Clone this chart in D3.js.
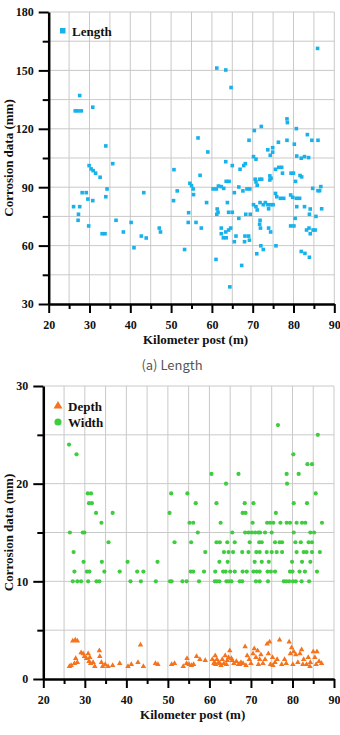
<!DOCTYPE html>
<html lang="en">
<head>
<meta charset="utf-8">
<script src="https://d3js.org/d3.v7.min.js"></script>
<style>
  body { margin: 0; background: #fff; }
  svg { display: block; }
  .tick text { font-family: "Liberation Serif", "Times New Roman", serif; font-weight: bold; font-size: 12px; fill: #111; }
  .title { font-family: "Liberation Serif", "Times New Roman", serif; font-weight: bold; font-size: 13px; fill: #111; }
  .grid line { stroke: #c9c9c9; stroke-width: 1; }
</style>
</head>
<body>
<svg width="340" height="735"></svg>
<script>
// x ticks (km posts) and y ticks for the two panels
var kmTicks = [20, 30, 40, 50, 60, 70, 80, 90];
var lenTicks = [30, 60, 90, 120, 150, 180];
var dwTicks = [0, 10, 20, 30];

// (a) length, [km, mm]
var lengthData = [
  [85.9,161.3],[61.2,151.2],[63.4,150.2],[64.7,141.2],[27.6,137.1],[26.5,129.2],[27.2,129.2],[28.0,129.2],[30.8,131.1],
  [78.4,125.1],[78.5,123.2],[70.4,119.1],[72.1,121.2],[80.7,120.1],[83.4,117.0],[56.6,115.3],[69.1,114.1],[78.4,114.1],
  [84.5,114.1],[86.0,114.1],[76.3,113.1],[80.2,112.1],[34.0,111.2],[59.0,108.1],[74.9,110.3],[73.7,109.2],[74.9,108.0],
  [70.2,105.7],[70.8,104.4],[74.3,106.4],[80.8,106.0],[81.9,104.9],[82.7,105.7],[83.7,105.2],[63.4,103.1],[65.0,101.1],
  [68.2,102.1],[67.8,101.1],[66.9,99.2],[35.7,102.1],[29.9,101.1],[30.4,99.4],[30.9,98.5],[31.5,97.2],[32.6,95.1],
  [50.7,99.0],[57.1,96.1],[75.6,99.2],[76.4,100.2],[77.1,100.2],[77.3,97.2],[79.4,97.2],[80.0,97.2],[81.6,96.0],[82.0,95.3],
  [74.2,95.8],[74.5,94.6],[70.6,94.1],[71.7,94.1],[72.2,94.1],[71.1,91.0],[70.8,92.7],[74.2,93.7],[80.5,93.0],[54.6,92.0],
  [55.0,90.8],[55.4,89.1],[63.5,93.0],[64.2,93.0],[61.6,90.6],[62.3,90.3],[62.9,89.4],[60.3,89.1],[61.1,89.1],[66.6,90.1],
  [65.5,87.2],[67.6,88.1],[68.6,89.1],[69.3,89.1],[34.3,89.1],[28.2,87.2],[29.2,87.2],[43.3,87.2],[51.5,88.1],[55.5,86.2],
  [86.7,90.3],[86.0,88.2],[86.4,88.2],[84.7,89.4],[75.6,86.8],[75.9,85.1],[76.8,84.3],[77.6,84.3],[79.3,86.0],[79.8,84.8],
  [80.7,84.3],[81.5,84.3],[34.0,85.1],[29.6,83.9],[30.8,83.1],[26.1,80.0],[27.6,80.0],[27.3,76.1],[27.2,73.0],[29.8,70.1],
  [33.1,66.1],[33.8,66.1],[36.5,73.0],[38.3,67.0],[40.2,71.9],[40.9,58.9],[42.7,64.9],[43.9,63.9],[47.1,69.0],[47.4,67.0],
  [50.6,83.1],[53.3,58.0],[54.3,76.9],[54.2,71.9],[56.1,71.9],[57.4,69.0],[58.7,82.1],[61.0,52.9],[61.3,78.8],[61.5,77.1],
  [61.2,76.1],[63.8,82.1],[64.1,77.1],[65.0,77.1],[66.6,74.0],[62.3,69.0],[62.3,66.1],[62.8,64.0],[63.5,64.0],[63.4,67.0],
  [64.1,68.0],[64.6,69.0],[65.5,62.0],[65.9,64.9],[68.1,64.9],[69.0,64.9],[68.0,62.0],[69.2,62.8],[67.3,49.8],[64.4,38.8],
  [68.3,76.1],[69.4,76.1],[70.2,81.0],[70.8,80.0],[71.1,78.3],[71.8,82.1],[72.6,81.0],[73.1,82.1],[73.7,81.0],[74.4,81.0],
  [75.0,81.0],[73.9,78.9],[71.8,73.0],[71.7,71.0],[71.9,69.0],[73.9,69.0],[74.4,67.0],[71.0,55.8],[72.0,59.9],[72.6,58.0],
  [75.7,59.9],[79.3,70.1],[80.1,70.1],[80.4,74.0],[80.8,80.0],[82.7,80.0],[84.1,78.8],[83.9,76.1],[85.5,75.0],[86.9,78.9],
  [83.2,68.0],[83.8,69.0],[84.1,66.1],[84.8,68.0],[85.3,68.0],[81.9,57.0],[82.8,56.0],[83.9,54.0]
];

// (b) width, [km, mm]
var widthData = [
  [76.5,26],[86.1,25],[26.2,24],[28.0,23],[80.2,23],[83.6,22],[84.7,22],
  [60.5,21],[67.0,21],[78.6,21],[81.5,21],[64.0,20],[78.7,20],
  [30.7,19],[31.5,19],[50.8,19],[54.7,19],[85.6,19],
  [31.0,18],[31.7,18],[56.7,18],[61.7,18],[68.5,18],[70.6,18],[80.3,18],[83.5,18],
  [32.7,17],[36.7,17],[50.4,17],[68.0,17],[68.7,17],[76.0,17],
  [34.0,16],[55.2,16],[56.1,16],[62.7,16],[70.4,16],[73.9,16],[74.6,16],[75.4,16],[77.1,16],[78.6,16],[79.4,16],
  [81.0,16],[82.3,16],[83.1,16],[87.1,16],
  [26.4,15],[29.5,15],[29.9,15],[57.2,15],[65.5,15],[68.6,15],[69.4,15],[70.2,15],[71.0,15],[71.8,15],[72.2,15],
  [73.4,15],[75.0,15],[80.3,15],[84.3,15],[85.2,15],
  [35.7,14],[51.6,14],[55.6,14],[61.7,14],[62.5,14],[64.3,14],[66.1,14],[69.7,14],[72.0,14],[72.6,14],[75.8,14],
  [76.9,14],[77.5,14],[80.7,14],[82.0,14],[83.9,14],[84.7,14],
  [27.3,13],[59.0,13],[63.5,13],[64.6,13],[65.7,13],[67.9,13],[69.4,13],[71.3,13],[72.1,13],[73.8,13],[75.0,13],
  [76.2,13],[77.5,13],[81.0,13],[82.7,13],[83.4,13],[84.7,13],[86.6,13],
  [29.7,12],[34.1,12],[40.3,12],[47.5,12],[62.4,12],[64.4,12],[70.9,12],[72.6,12],[74.3,12],[79.9,12],[82.3,12],[84.3,12],
  [27.5,11],[30.5,11],[31.1,11],[34.7,11],[38.4,11],[42.6,11],[44.1,11],[55.5,11],[56.1,11],[58.7,11],[61.4,11],
  [63.3,11],[63.9,11],[65.0,11],[66.1,11],[68.0,11],[69.0,11],[70.6,11],[71.4,11],[72.1,11],[74.0,11],[74.8,11],
  [75.8,11],[79.4,11],[80.0,11],[81.7,11],[83.0,11],[85.9,11],
  [27.1,10],[28.2,10],[29.1,10],[30.8,10],[32.8,10],[33.5,10],[41.0,10],[43.5,10],[47.1,10],[50.5,10],[50.9,10],
  [53.5,10],[54.5,10],[57.5,10],[61.3,10],[61.8,10],[62.4,10],[64.1,10],[64.7,10],[65.3,10],[67.3,10],[67.9,10],
  [71.2,10],[72.1,10],[74.1,10],[77.9,10],[78.5,10],[79.2,10],[80.1,10],[80.8,10],[82.2,10],[84.0,10]
];

// (b) depth, [km, mm]
var depthData = [
  [27.1,3.9],[27.7,4.0],[28.2,3.9],[43.4,3.5],[26.3,1.3],[26.7,1.4],[27.5,1.6],[27.8,2.1],[28.2,1.7],
  [29.1,2.7],[29.6,2.6],[29.9,2.3],[30.4,2.1],[30.8,2.6],[31.2,2.2],[31.0,1.8],[31.4,1.6],[32.0,1.7],[32.4,1.3],
  [33.5,2.9],[33.6,2.3],[34.0,1.7],[34.3,1.3],[34.9,1.5],[35.6,1.3],[36.7,1.4],[38.4,1.6],[40.4,1.3],[41.2,1.5],
  [42.8,1.7],[44.1,1.3],[47.0,1.6],[47.6,1.5],[50.9,1.5],[51.6,1.6],[53.7,1.3],[54.5,1.6],[54.6,2.1],[55.1,1.5],
  [55.7,1.4],[56.2,1.5],[56.9,2.3],[57.7,2.0],[59.0,1.9],[60.7,2.0],[61.2,1.7],[61.4,2.4],[61.8,2.0],[62.5,1.6],
  [63.1,2.0],[63.8,2.4],[64.3,1.9],[64.9,2.9],[65.3,2.1],[65.9,1.6],[66.5,1.8],[67.0,1.5],[61.1,1.6],[61.5,1.5],
  [62.2,1.7],[62.8,1.4],[63.5,1.6],[64.1,1.5],[64.6,2.2],[65.5,1.9],[67.6,1.7],[68.1,1.6],[68.6,3.3],[69.1,2.4],
  [69.6,2.0],[70.0,1.6],[70.5,2.6],[70.8,3.1],[71.2,2.2],[71.6,2.9],[72.1,2.0],[72.4,2.5],[72.9,1.6],[73.4,2.0],
  [73.9,3.6],[74.5,3.8],[74.2,2.6],[74.7,1.5],[75.2,2.2],[75.8,1.7],[76.3,2.0],[76.9,4.0],[77.4,1.5],[78.1,2.0],
  [78.5,1.6],[79.2,3.8],[79.5,2.6],[79.8,3.2],[80.3,2.8],[80.8,2.5],[81.3,1.7],[81.8,2.6],[82.2,3.0],[82.7,2.0],
  [83.4,1.5],[83.8,2.2],[84.3,1.7],[85.0,2.8],[85.4,2.2],[85.9,2.8],[86.4,1.8],[87.0,1.6],
  [67.3,1.5],[68.8,1.4],[71.8,1.5],[75.3,1.4],[80.1,1.5],[82.5,1.5],[84.2,1.3],[85.7,1.5]
];

var svg = d3.select("svg");
var blue = "#17b2ec", green = "#3fcc3f", orange = "#f5731c";

function drawPanel(o) {
  var x = d3.scaleLinear().domain([20, 90]).range([o.left, o.right]);
  var y = d3.scaleLinear().domain(o.yDomain).range([o.bottom, o.top]);
  var g = svg.append("g");

  // grid at every minor step
  var gx = d3.range(25, 90.1, 5), gy = d3.range(o.yDomain[0] + o.yMinor, o.yDomain[1] + 0.1, o.yMinor);
  var grid = g.append("g").attr("class", "grid");
  grid.selectAll(".vx").data(gx).enter().append("line")
    .attr("x1", function(d) { return x(d); }).attr("x2", function(d) { return x(d); })
    .attr("y1", o.top).attr("y2", o.bottom);
  grid.selectAll(".hy").data(gy).enter().append("line")
    .attr("y1", function(d) { return y(d); }).attr("y2", function(d) { return y(d); })
    .attr("x1", o.left).attr("x2", o.right);

  // minor ticks
  g.append("g").attr("transform", "translate(0," + o.bottom + ")")
    .call(d3.axisBottom(x).tickValues(d3.range(25, 90, 10)).tickSize(5).tickSizeOuter(0).tickFormat(""))
    .call(function(a) { a.select(".domain").remove(); a.selectAll("line").attr("stroke-width", 2); });
  g.append("g").attr("transform", "translate(" + o.left + ",0)")
    .call(d3.axisLeft(y).tickValues(o.minorTicks).tickSize(6).tickSizeOuter(0).tickFormat(""))
    .call(function(a) { a.select(".domain").remove(); a.selectAll("line").attr("stroke-width", 2); });

  // major ticks + labels
  g.append("g").attr("transform", "translate(0," + o.bottom + ")")
    .call(d3.axisBottom(x).tickValues(kmTicks).tickSize(9).tickSizeOuter(0).tickPadding(7))
    .call(function(a) { a.select(".domain").attr("stroke-width", 2.5); a.selectAll("line").attr("stroke-width", 2); });
  g.append("g").attr("transform", "translate(" + o.left + ",0)")
    .call(d3.axisLeft(y).tickValues(o.yTicks).tickSize(10).tickSizeOuter(0).tickPadding(5))
    .call(function(a) { a.select(".domain").attr("stroke-width", 2.5); a.selectAll("line").attr("stroke-width", 2); });

  g.append("text").attr("class", "title").attr("text-anchor", "middle")
    .attr("x", (o.left + o.right) / 2 + 4).attr("y", o.bottom + 40).text("Kilometer post (m)");
  g.append("text").attr("class", "title").attr("text-anchor", "middle")
    .attr("transform", "translate(13," + ((o.top + o.bottom) / 2) + ") rotate(-90)")
    .text("Corrosion data (mm)");

  return { x: x, y: y, g: g };
}

// (a) length panel
var p1 = drawPanel({ left: 48.7, right: 334.3, top: 12, bottom: 304,
  yDomain: [30, 180], yMinor: 15, yTicks: lenTicks, minorTicks: [45, 75, 105, 135, 165] });

p1.g.selectAll(".len").data(lengthData).enter().append("rect")
  .attr("x", function(d) { return p1.x(d[0]) - 1.8; })
  .attr("y", function(d) { return p1.y(d[1]) - 1.8; })
  .attr("width", 3.6).attr("height", 3.6).attr("fill", blue);

p1.g.append("rect").attr("x", 60).attr("y", 28).attr("width", 5.5).attr("height", 5.5).attr("fill", blue);
p1.g.append("text").attr("class", "title").attr("x", 72).attr("y", 35.5).attr("font-size", "12px").text("Length");

svg.append("text").attr("x", 172).attr("y", 370).attr("text-anchor", "middle")
  .attr("font-family", "'Noto Sans CJK KR', 'DejaVu Sans', sans-serif").attr("font-size", "13px")
  .attr("fill", "#555").text("(a) Length");

// (b) depth and width panel
var p2 = drawPanel({ left: 43.3, right: 334, top: 386, bottom: 679,
  yDomain: [0, 30], yMinor: 5, yTicks: dwTicks, minorTicks: [5, 15, 25] });

p2.g.selectAll(".wid").data(widthData).enter().append("circle")
  .attr("cx", function(d) { return p2.x(d[0]); })
  .attr("cy", function(d) { return p2.y(d[1]); })
  .attr("r", 2.1).attr("fill", green);

var tri = d3.symbol().type(d3.symbolTriangle).size(13);
p2.g.selectAll(".dep").data(depthData).enter().append("path")
  .attr("d", tri)
  .attr("transform", function(d) { return "translate(" + p2.x(d[0]) + "," + p2.y(d[1]) + ")"; })
  .attr("fill", orange);

p2.g.append("path").attr("d", d3.symbol().type(d3.symbolTriangle).size(34))
  .attr("transform", "translate(58,406)").attr("fill", orange);
p2.g.append("text").attr("class", "title").attr("x", 68).attr("y", 410.5).attr("font-size", "12px").text("Depth");
p2.g.append("circle").attr("cx", 58).attr("cy", 422).attr("r", 3.6).attr("fill", green);
p2.g.append("text").attr("class", "title").attr("x", 68).attr("y", 426.5).attr("font-size", "12px").text("Width");
</script>
</body>
</html>
